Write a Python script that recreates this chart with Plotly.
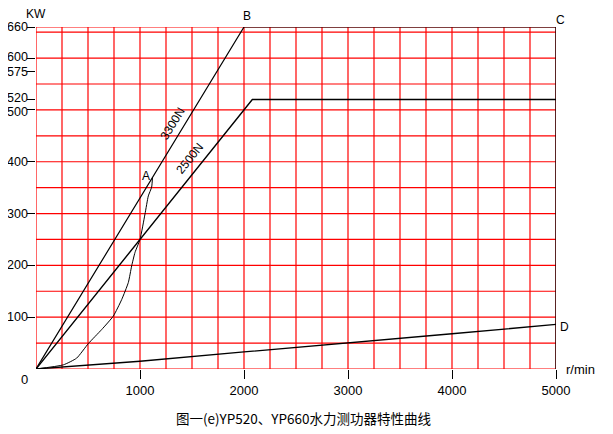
import plotly.graph_objects as go

# ---- data ----
line3300_x = [0, 2000, 5000]
line3300_y = [0, 660, 660]
line2500_x = [0, 2080, 5000]
line2500_y = [0, 520, 520]
curveA_x = [0, 263, 391, 503, 631, 743, 824, 888, 920, 952, 1000, 1048, 1080, 1112, 1120]
curveA_y = [0, 8, 21, 49, 76, 102, 134, 167, 199, 225, 250, 299, 334, 351, 370]
lineD_x = [0, 1000, 2000, 3000, 4000, 5000]
lineD_y = [0, 15, 33, 50, 68, 86]
border_x = [5000, 5000]
border_y = [0, 660]
xtick_vals = [1000, 2000, 3000, 4000, 5000]
ytick_vals = [100, 200, 300, 400, 500, 520, 575, 600, 660]
ytick_text = [str(v) for v in ytick_vals]
grid_x = list(range(0, 5001, 250))
grid_y = list(range(0, 651, 50)) + [660]

FONT = "Liberation Sans, Arial, sans-serif"
RED = "#ff0000"

fig = go.Figure()
for xs, ys, w, shp in [(line3300_x, line3300_y, 1.2, "linear"),
                       (line2500_x, line2500_y, 1.4, "linear"),
                       (curveA_x, curveA_y, 1, "spline"),
                       (lineD_x, lineD_y, 1.3, "linear"),
                       (border_x, border_y, 1.3, "linear")]:
    fig.add_trace(go.Scatter(x=xs, y=ys, mode="lines",
                             line=dict(color="black", width=w, shape=shp, smoothing=0.5),
                             cliponaxis=False, showlegend=False, hoverinfo="skip"))

shapes = []
for gx in grid_x:
    shapes.append(dict(type="line", xref="x", yref="y", x0=gx, x1=gx, y0=0, y1=660,
                       line=dict(color=RED, width=1.2), layer="below"))
for gy in grid_y:
    shapes.append(dict(type="line", xref="x", yref="y", x0=0, x1=5000, y0=gy, y1=gy,
                       line=dict(color=RED, width=1.2), layer="below"))

ann = []
def txt(x, y, t, size=13, angle=0, xref="paper", yref="paper", family=FONT,
        xanchor="center", yshift=0):
    ann.append(dict(x=x, y=y, xref=xref, yref=yref, text=t, showarrow=False,
                    textangle=angle, font=dict(family=family, size=size, color="black"),
                    xanchor=xanchor, yanchor="middle", yshift=yshift))

# y tick labels (drawn as text so they fit the left edge)
label_shift = {520: 2, 500: -2, 600: 1, 575: -1}
for v, t in zip(ytick_vals, ytick_text):
    txt(-0.0115, v, t, 12.5, xref="paper", yref="y", xanchor="right",
        yshift=label_shift.get(v, 0))

txt(0.0, 1.038, "KW", 12)
txt(0.406, 1.031, "B", 12)
txt(1.008, 1.020, "C", 12)
txt(1.017, 0.123, "D", 12)
txt(1.048, 0.0, "r/min", 13)
txt(-0.023, -0.032, "0", 13)
txt(1062, 373, "A", 12, xref="x", yref="y")
txt(1310, 473, "3300N", 12, angle=-58.6, xref="x", yref="y")
txt(1472, 406, "2500N", 12, angle=-51, xref="x", yref="y")
txt(0.515, -0.142, "图一(e)YP520、YP660水力测功器特性曲线", 13.5,
    family="Noto Sans CJK SC, sans-serif")

fig.update_layout(
    width=605, height=426,
    margin=dict(l=28, r=57, t=19, b=65),
    plot_bgcolor="white", paper_bgcolor="white",
    shapes=shapes, annotations=ann,
    xaxis=dict(range=[0, 5000], showgrid=False, zeroline=False, showline=False,
               automargin=False,
               tickvals=xtick_vals, ticks="outside", ticklen=9, tickcolor="black",
               tickwidth=1, tickfont=dict(family=FONT, size=13, color="black")),
    yaxis=dict(range=[0, 660], showgrid=False, zeroline=False, showline=False,
               automargin=False, showticklabels=False,
               tickvals=ytick_vals, ticks="outside", ticklen=8, tickcolor="black",
               tickwidth=1),
)

fig.write_html("out.html")
